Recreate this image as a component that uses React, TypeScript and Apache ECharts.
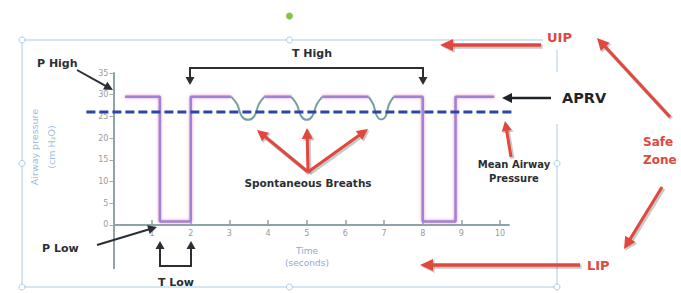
import React, { useEffect, useRef } from "react";
import * as echarts from "echarts";

// ---- data ----
const yTickValues = [0, 5, 10, 15, 20, 25, 30, 35];
const xTickValues = [1, 2, 3, 4, 5, 6, 7, 8, 9, 10];
const meanAirwayPressure: [number, number][] = [
  [-0.7, 26],
  [10.3, 26],
];
const timeAxisLine: [number, number][] = [
  [0, 0],
  [10.25, 0],
];
// pressure waveform (purple): high / release phases
const pressureWave: ([number, number] | null)[] = [
  [0.3, 29.5],
  [1.2, 29.5],
  [1.2, 0.8],
  [2.0, 0.8],
  [2.0, 29.5],
  [3.05, 29.5],
  null,
  [3.9, 29.5],
  [4.6, 29.5],
  null,
  [5.4, 29.5],
  [6.6, 29.5],
  null,
  [7.25, 29.5],
  [8.0, 29.5],
  [8.0, 0.8],
  [8.85, 0.8],
  [8.85, 29.5],
  [9.85, 29.5],
];
// spontaneous breaths (teal dips)
const breath1: [number, number][] = [
  [3.05, 29.5], [3.2, 27.8], [3.32, 25.0], [3.48, 24.2], [3.64, 25.0], [3.76, 27.8], [3.9, 29.5],
];
const breath2: [number, number][] = [
  [4.6, 29.5], [4.74, 27.8], [4.86, 25.0], [5.0, 24.2], [5.14, 25.0], [5.26, 27.8], [5.4, 29.5],
];
const breath3: [number, number][] = [
  [6.6, 29.5], [6.72, 27.8], [6.82, 25.0], [6.93, 24.3], [7.04, 25.0], [7.13, 27.8], [7.25, 29.5],
];
const breathsData: ([number, number] | null)[] = [...breath1, null, ...breath2, null, ...breath3];

const X_MIN = -0.7;
const X_MAX = 10.3;
const Y_MIN = -10;
const Y_MAX = 35;
const GRID_LEFT = 86.4;
const GRID_RIGHT = 169.4;
const GRID_TOP = 73;
const GRID_BOTTOM = 24.7;
const PLOT_W = 681 - GRID_LEFT - GRID_RIGHT;
const PLOT_H = 293 - GRID_TOP - GRID_BOTTOM;

const FONT = "DejaVu Sans";
const DARK = "#2b2f33";
const RED = "#e0483e";
const FRAME = "#a9cbe8";
const SHADOW = "rgba(60,60,60,0.28)";

function arrowParts(
  x1: number, y1: number, x2: number, y2: number,
  color: string, w: number, hl: number, hw: number, z: number
) {
  const dx = x2 - x1, dy = y2 - y1;
  const L = Math.hypot(dx, dy);
  const ux = dx / L, uy = dy / L;
  const bx = x2 - ux * hl, by = y2 - uy * hl;
  const px = -uy, py = ux;
  return [
    { type: "line", z, shape: { x1, y1, x2: bx + ux, y2: by + uy }, style: { stroke: color, lineWidth: w } },
    {
      type: "polygon", z,
      shape: { points: [[x2, y2], [bx + px * hw, by + py * hw], [bx - px * hw, by - py * hw]] },
      style: { fill: color },
    },
  ];
}

function arrow(
  x1: number, y1: number, x2: number, y2: number,
  color: string, w: number, hl: number, hw: number, shadow = false
) {
  const parts: any[] = [];
  if (shadow) parts.push(...arrowParts(x1 + 1.5, y1 + 1.5, x2 + 1.5, y2 + 1.5, SHADOW, w + 1, hl, hw + 0.5, 19));
  parts.push(...arrowParts(x1, y1, x2, y2, color, w, hl, hw, 20));
  return parts;
}

function label(text: string, x: number, y: number, size: number, color: string, align = "left", bold = true, rotation = 0) {
  return {
    type: "text", z: 25, x, y, rotation,
    style: {
      text, fill: color, fontSize: size, fontFamily: FONT, fontWeight: bold ? "bold" : "normal",
      textAlign: align, textVerticalAlign: "middle",
    },
  };
}

function handle(cx: number, cy: number) {
  return { type: "circle", z: 1, shape: { cx, cy, r: 3 }, style: { fill: "#fff", stroke: FRAME, lineWidth: 1 } };
}

export default function App() {
  const ref = useRef<HTMLDivElement>(null);
  useEffect(() => {
    if (!ref.current) return;
    const chart = echarts.init(ref.current, undefined, { renderer: "svg" });
    const graphic: any[] = [
      // selection frame
      { type: "rect", z: 0, shape: { x: 22, y: 40, width: 535, height: 247 }, style: { fill: "none", stroke: FRAME, lineWidth: 1 } },
      handle(22, 40), handle(289.5, 40), handle(22, 163.5), handle(557, 163.5),
      handle(22, 287), handle(289.5, 287), handle(557, 287),
      { type: "circle", z: 1, shape: { cx: 289.5, cy: 16, r: 3.5 }, style: { fill: "#86c24e" } },
      // white boxes behind labels
      { type: "rect", z: 5, shape: { x: 543, y: 26, width: 50, height: 24 }, style: { fill: "#fff" } },
      { type: "rect", z: 5, shape: { x: 545, y: 72, width: 80, height: 52 }, style: { fill: "#fff" } },
      // axis titles
      label("Airway pressure", 34, 147, 9.5, "#9dbde0", "center", false, Math.PI / 2),
      label("(cm H\u2082O)", 51, 147, 9.5, "#9dbde0", "center", false, Math.PI / 2),
      label("Time", 307, 251, 9, "#93aac8", "center", false),
      label("(seconds)", 307, 263, 9, "#93aac8", "center", false),
      // black annotations
      label("P High", 37, 63, 11, DARK),
      ...arrow(77, 70, 113, 90, DARK, 2, 9, 4.5),
      label("T High", 312, 53, 11, DARK, "center"),
      { type: "line", z: 20, shape: { x1: 190, y1: 68, x2: 423, y2: 68 }, style: { stroke: DARK, lineWidth: 2 } },
      ...arrow(190, 67, 190, 85, DARK, 2, 8, 4.5),
      ...arrow(423, 67, 423, 85, DARK, 2, 8, 4.5),
      label("APRV", 562, 98, 14.5, "#1f2428"),
      ...arrow(551, 98, 502, 98, "#1f2428", 2.5, 10, 5),
      label("Spontaneous Breaths", 308, 183, 10.5, DARK, "center"),
      label("Mean Airway", 514, 164, 10, DARK, "center"),
      label("Pressure", 514, 178, 10, DARK, "center"),
      label("P Low", 42, 248, 11, DARK),
      ...arrow(97, 245, 157, 227, DARK, 2, 9, 4.5),
      label("T Low", 176, 282, 11, DARK, "center"),
      { type: "line", z: 20, shape: { x1: 160, y1: 266, x2: 191, y2: 266 }, style: { stroke: DARK, lineWidth: 2 } },
      ...arrow(160, 267, 160, 241, DARK, 2, 8, 4.5),
      ...arrow(191, 267, 191, 241, DARK, 2, 8, 4.5),
      // red annotations
      ...arrow(308, 172, 257, 130, RED, 3, 11, 5.5, true),
      ...arrow(308, 172, 307, 128, RED, 3, 11, 5.5, true),
      ...arrow(308, 172, 368, 129, RED, 3, 11, 5.5, true),
      ...arrow(511, 157, 505, 121, RED, 3, 10, 5, true),
      label("UIP", 547, 37, 13, RED),
      ...arrow(541, 45, 440, 45, RED, 3.5, 13, 6, true),
      label("LIP", 587, 265, 13, RED),
      ...arrow(580, 265, 420, 265, RED, 3.5, 13, 6, true),
      label("Safe", 643, 142, 12, RED),
      label("Zone", 643, 160, 12, RED),
      ...arrow(670, 117, 597, 38, RED, 3, 12, 6, true),
      ...arrow(662, 187, 624, 249, RED, 3, 12, 6, true),
    ];
    chart.setOption({
      animation: false,
      backgroundColor: "#ffffff",
      grid: { left: GRID_LEFT, right: GRID_RIGHT, top: GRID_TOP, bottom: GRID_BOTTOM },
      xAxis: {
        type: "value",
        min: X_MIN,
        max: X_MAX,
        position: "bottom",
        // place the time axis at pressure 0
        offset: -((0 - Y_MIN) / (Y_MAX - Y_MIN)) * PLOT_H,
        axisLine: { show: false, onZero: false },
        axisTick: { show: true, inside: true, length: 5, customValues: xTickValues, lineStyle: { color: "#8da3a8", width: 1.5 } },
        axisLabel: { customValues: xTickValues, fontSize: 8, color: "#9a9a9a", margin: 5, fontFamily: FONT },
        splitLine: { show: false },
      },
      yAxis: {
        type: "value",
        min: Y_MIN,
        max: Y_MAX,
        position: "left",
        // place the pressure axis at time 0
        offset: -((0 - X_MIN) / (X_MAX - X_MIN)) * PLOT_W,
        axisLine: { show: true, onZero: false, lineStyle: { color: "#8da3a8", width: 2 } },
        axisTick: { show: true, length: 4, customValues: yTickValues, lineStyle: { color: "#a8a8a8" } },
        axisLabel: { customValues: yTickValues, fontSize: 8, color: "#9a9a9a", margin: 5, fontFamily: FONT },
        splitLine: { show: false },
      },
      graphic,
      series: [
        {
          type: "line", data: timeAxisLine, symbol: "none", silent: true, z: 2,
          lineStyle: { color: "#8da3a8", width: 2 },
        },
        {
          type: "line", data: pressureWave, symbol: "none", silent: true, connectNulls: false, z: 3,
          lineStyle: { color: "#9a84d8", width: 2.5, shadowColor: "rgba(240,130,180,0.9)", shadowBlur: 3 },
        },
        {
          type: "line", data: breathsData, symbol: "none", silent: true, connectNulls: false, smooth: 0.4, z: 3,
          lineStyle: { color: "#76a09e", width: 2 },
        },
        {
          type: "line", data: meanAirwayPressure, symbol: "none", silent: true, z: 4,
          lineStyle: { color: "#2c45a6", width: 3, type: [9, 4] },
        },
      ],
    });
    return () => chart.dispose();
  }, []);
  return (
    <div
      ref={ref}
      style={{ position: "fixed", left: 0, top: 0, width: 681, height: 293, background: "#fff" }}
    />
  );
}
